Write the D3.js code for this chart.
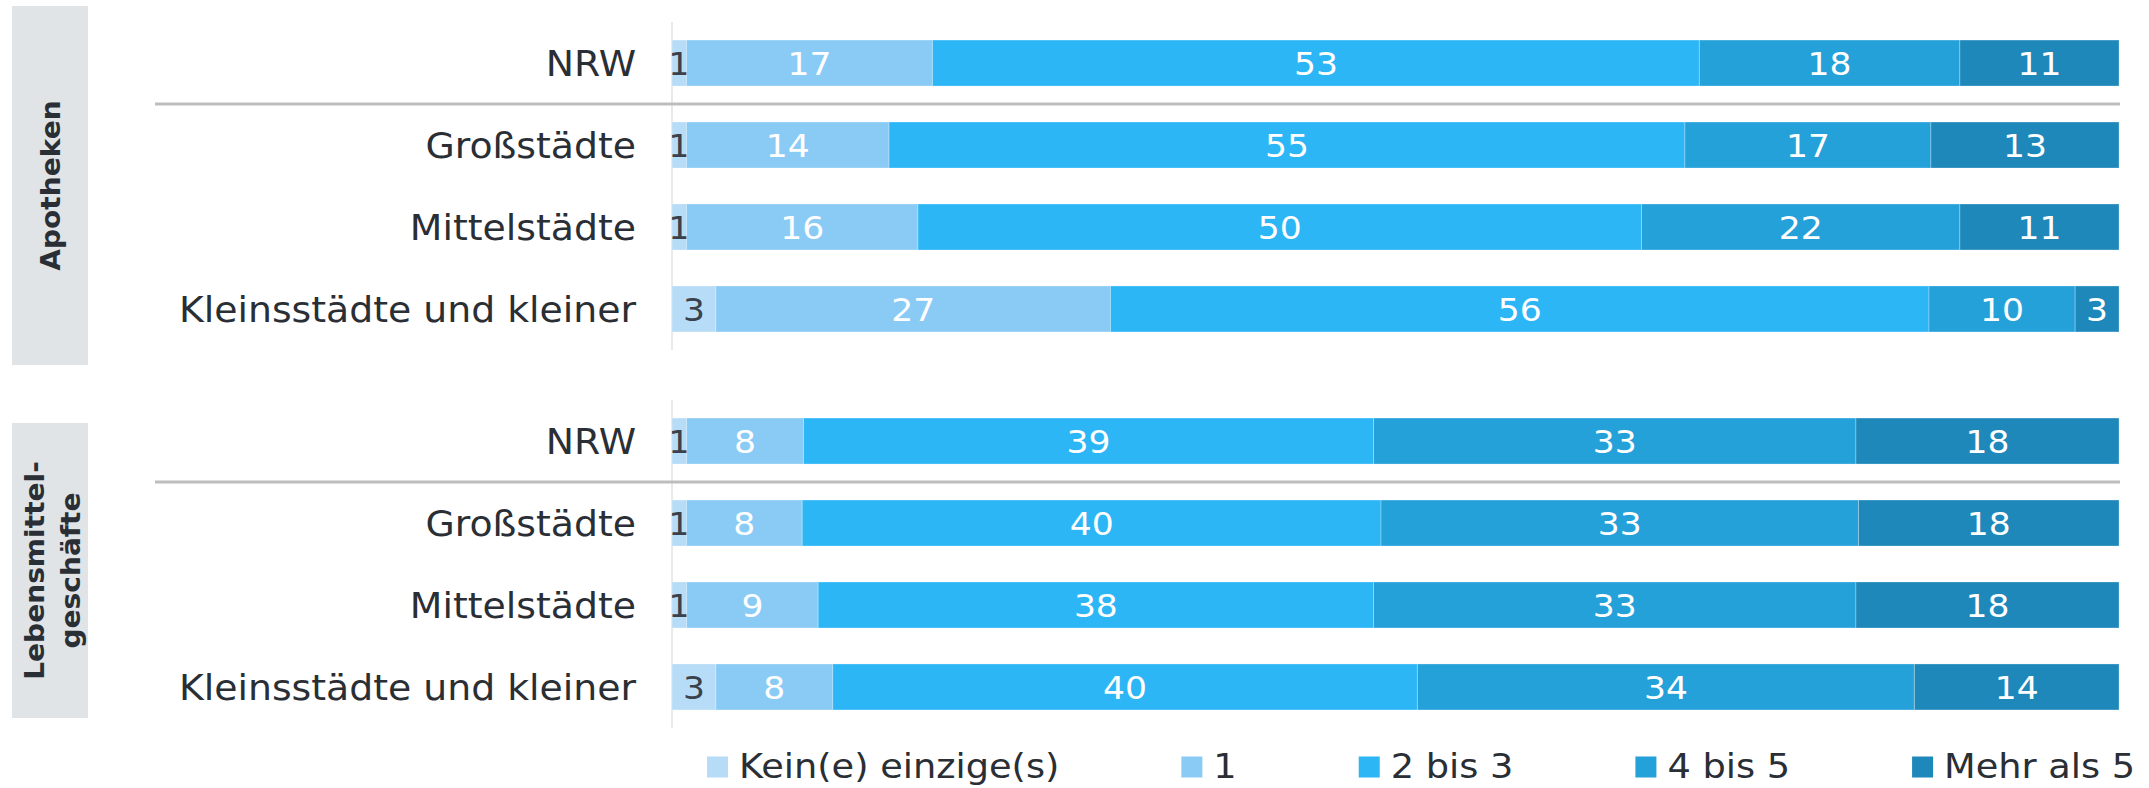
<!DOCTYPE html>
<html>
<head>
<meta charset="utf-8">
<script src="https://cdn.jsdelivr.net/npm/d3@7"></script>
<style>
  html, body { margin: 0; padding: 0; background: #ffffff; }
  svg { display: block; font-family: "DejaVu Sans", Verdana, sans-serif; }
</style>
</head>
<body>
<svg id="chart" width="2149" height="788"></svg>
<script>
// ---------- data ----------
const categories = ["NRW", "Großstädte", "Mittelstädte", "Kleinsstädte und kleiner"];
const seriesNames = ["Kein(e) einzige(s)", "1", "2 bis 3", "4 bis 5", "Mehr als 5"];
const groupTitles = [["Apotheken"], ["Lebensmittel-", "geschäfte"]];

// Apotheken
const apoKein = [1, 1, 1, 3];
const apoEins = [17, 14, 16, 27];
const apoZwei = [53, 55, 50, 56];
const apoVier = [18, 17, 22, 10];
const apoMehr = [11, 13, 11, 3];

// Lebensmittelgeschäfte
const lebKein = [1, 1, 1, 3];
const lebEins = [8, 8, 9, 8];
const lebZwei = [39, 40, 38, 40];
const lebVier = [33, 33, 33, 34];
const lebMehr = [18, 18, 18, 14];

const seriesColors = ["#b7dcf7", "#8acbf6", "#2cb6f6", "#25a1da", "#1e88ba"];
const labelColors = ["#3b414b", "#ffffff", "#ffffff", "#ffffff", "#ffffff"];

// ---------- layout ----------
const svg = d3.select("#chart");
const FX = 1.08;            // horizontal glyph stretch to match the wide reference face
const axisX = 672, barEnd = 2119;
const panels = [
  { title: groupTitles[0], series: [apoKein, apoEins, apoZwei, apoVier, apoMehr], range: [22, 350], box: [12, 6, 76, 359], titleBase: [60] },
  { title: groupTitles[1], series: [lebKein, lebEins, lebZwei, lebVier, lebMehr], range: [400, 728], box: [12, 423, 76, 295], titleBase: [44, 80] }
];

const x = d3.scaleLinear().domain([0, 1]).range([axisX, barEnd]);
const keys = seriesNames.map((_, i) => "s" + i);

function stretchedText(parent, tx, ty, str, o) {
  const g = parent.append("g").attr("transform", `translate(${tx},${ty})` + (o.rotate ? ` rotate(${o.rotate})` : ""));
  return g.append("text")
    .attr("transform", `scale(${FX},1)`)
    .attr("x", (o.x || 0) / FX)
    .attr("y", o.y || 0)
    .attr("dy", o.dy || null)
    .attr("text-anchor", o.anchor || "start")
    .attr("font-size", o.size)
    .attr("font-weight", o.weight || "normal")
    .attr("fill", o.fill || "#2a2e35")
    .text(str);
}

panels.forEach(p => {
  const rows = categories.map((c, i) => {
    const r = { cat: c };
    keys.forEach((k, j) => r[k] = p.series[j][i]);
    return r;
  });
  const stacked = d3.stack().keys(keys).offset(d3.stackOffsetExpand)(rows);

  const y = d3.scaleBand().domain(categories).range(p.range)
    .paddingInner(36 / 82).paddingOuter(0.22);

  // title box
  svg.append("rect")
    .attr("x", p.box[0]).attr("y", p.box[1])
    .attr("width", p.box[2]).attr("height", p.box[3])
    .attr("fill", "#e1e4e7");
  const cy = p.box[1] + p.box[3] / 2;
  p.title.forEach((t, i) => {
    stretchedText(svg, 0, cy, t, { rotate: -90, y: p.titleBase[i], anchor: "middle", size: 26, weight: "bold", fill: "#2a2e35" });
  });

  // axis line
  svg.append("line")
    .attr("x1", axisX).attr("x2", axisX)
    .attr("y1", p.range[0]).attr("y2", p.range[1])
    .attr("stroke", "#e2e2e2").attr("stroke-width", 1.5);

  // separator below NRW
  const sepY = y(categories[0]) + y.bandwidth() + (y.step() - y.bandwidth()) / 2;
  svg.append("line")
    .attr("x1", 155).attr("x2", barEnd + 1)
    .attr("y1", sepY).attr("y2", sepY)
    .attr("stroke", "#bdbdbd").attr("stroke-width", 3);

  // category labels
  categories.forEach(c => {
    stretchedText(svg, axisX - 36, y(c) + y.bandwidth() / 2, c, { anchor: "end", size: 35, dy: "0.36em", fill: "#2a2e35" });
  });

  // bars
  stacked.forEach((layer, si) => {
    const g = svg.append("g");
    layer.forEach((d, ri) => {
      const c = categories[ri];
      g.append("rect")
        .attr("x", x(d[0]))
        .attr("y", y(c))
        .attr("width", Math.max(0, x(d[1]) - x(d[0])))
        .attr("height", y.bandwidth())
        .attr("fill", seriesColors[si])
        .attr("stroke", "rgba(255,255,255,0.28)")
        .attr("stroke-width", 1);
      stretchedText(g, (x(d[0]) + x(d[1])) / 2, y(c) + y.bandwidth() / 2, String(p.series[si][ri]),
        { anchor: "middle", size: 32, dy: "0.365em", fill: labelColors[si] });
    });
  });
});

// ---------- legend ----------
const legend = svg.append("g");
let lx = 707;
const ly = 767;
seriesNames.forEach((name, i) => {
  legend.append("rect")
    .attr("x", lx).attr("y", ly - 10.5)
    .attr("width", 21).attr("height", 21)
    .attr("fill", seriesColors[i]);
  const t = stretchedText(legend, lx + 32, ly, name, { anchor: "start", size: 34, dy: "0.33em", fill: "#2a2e35" });
  const w = t.node().getComputedTextLength() * FX;
  lx += 32 + w + 122;
});
</script>
</body>
</html>
